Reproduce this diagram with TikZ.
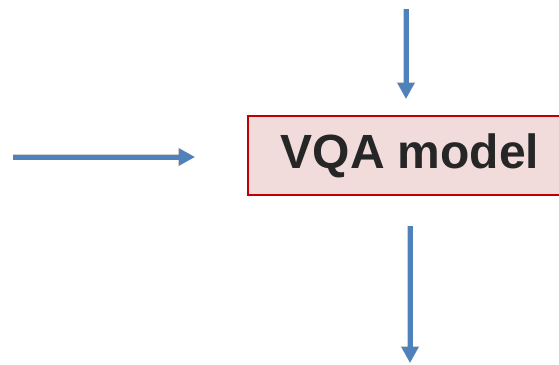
\documentclass[tikz,border=0pt]{standalone}
\usepackage{fontspec}
\setmainfont{Liberation Sans}
\usetikzlibrary{arrows.meta}
\definecolor{flowblue}{HTML}{4F81BD}
\definecolor{boxfill}{HTML}{F2DCDB}
\definecolor{boxline}{HTML}{C00000}
\definecolor{labelgray}{HTML}{262626}
\begin{document}
\begin{tikzpicture}[x=1pt,y=-1pt,
  flow/.style={draw=flowblue,line width=5pt,-{Triangle[width=16pt,length=16pt]}},
  flowshadow/.style={draw=black,opacity=0.18,line width=6pt,-{Triangle[width=18pt,length=17pt]}},
  modelbox/.style={draw=boxline,fill=boxfill,line width=1.6pt,minimum width=324pt,minimum height=79pt,
    inner sep=0pt,text=labelgray,font=\fontsize{48}{56}\selectfont\bfseries}]
  \useasboundingbox (0,0) rectangle (559,364);
  \clip (0,0) rectangle (559,364);
  % model block (runs past the right edge)
  \node[modelbox] (model) at (410,155.5) {VQA model};
  % free arrow ends
  \coordinate (inA) at (13,157);
  \coordinate (inB) at (195,157);
  \coordinate (topA) at (406,9);
  \coordinate (topB) at (406,99);
  \coordinate (outA) at (410,226);
  \coordinate (outB) at (410,363);
  % soft shadows under the arrows
  \begin{scope}[shift={(1.5,2.5)}]
    \draw[flowshadow] (inA) -- (inB);
    \draw[flowshadow] (topA) -- (topB);
    \draw[flowshadow] (outA) -- (outB);
  \end{scope}
  % arrows
  \draw[flow] (inA) -- (inB);
  \draw[flow] (topA) -- (topB);
  \draw[flow] (outA) -- (outB);
\end{tikzpicture}
\end{document}
